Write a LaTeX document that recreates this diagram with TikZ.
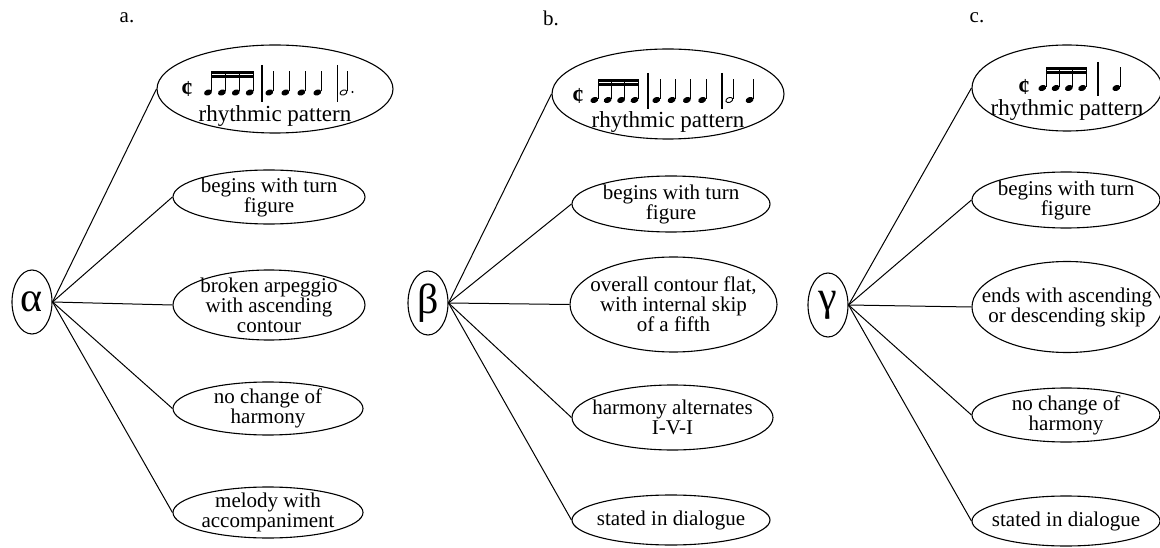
\documentclass[tikz,border=0pt]{standalone}
\usepackage{fontspec}
\setmainfont{Liberation Serif}
\usetikzlibrary{shapes.geometric}

% note-drawing helpers (coordinates in picture units, y pointing down)
\newcommand\nHead[2]{\fill[rotate around={22:(#1,#2)}] (#1,#2) ellipse [x radius=4.1pt, y radius=2.9pt];}
\newcommand\nOpenHead[2]{\draw[line width=0.9pt, rotate around={22:(#1,#2)}] (#1,#2) ellipse [x radius=3.6pt, y radius=2.4pt];}
\newcommand\nStem[2]{\draw[stemline] ({#1+3.7},{#2-1}) -- ({#1+3.7},{#2-21});}
\newcommand\nQuarter[2]{\nHead{#1}{#2}\nStem{#1}{#2}}
\newcommand\nHalf[2]{\nOpenHead{#1}{#2}\nStem{#1}{#2}}
% four beamed sixteenths: first head x, head y, spacing
\newcommand\nSixteenths[3]{%
  \foreach \i in {0,...,3}{\nQuarter{#1+\i*#3}{#2}}
  \fill ({#1+3.3},{#2-21.2}) rectangle ({#1+3*#3+4.1},{#2-18.4});
  \fill ({#1+3.3},{#2-17.0}) rectangle ({#1+3*#3+4.1},{#2-14.2});}
% four quarters: first head x, head y, spacing
\newcommand\nQuarters[3]{\foreach \i in {0,...,3}{\nQuarter{#1+\i*#3}{#2}}}
\newcommand\nBar[3]{\draw[barline] (#1,#2) -- (#1,#3);}

\begin{document}
\begin{tikzpicture}[x=1pt,y=-1pt,
  txt/.style={inner sep=0pt, align=center, font=\fontsize{21}{20}\selectfont},
  rtxt/.style={inner sep=0pt, font=\fontsize{23}{23}\selectfont},
  greek/.style={inner sep=0pt, font=\fontsize{42}{42}\selectfont},
  cut/.style={inner sep=0pt, font=\fontsize{23}{23}\selectfont\bfseries},
  motif/.style={draw, ellipse, line width=1.1pt, inner sep=0pt,
                minimum width=40pt, minimum height=64pt},
  feat/.style={draw, ellipse, line width=1.1pt, inner sep=0pt},
  edge/.style={line width=1pt},
  stemline/.style={line width=0.8pt},
  barline/.style={line width=1.6pt}]

\useasboundingbox (0,0) rectangle (1160,548);

% ---------------- column a ----------------
\node[txt] (la) at (127,18) {a.};
\node[motif] (alpha) at (32,302) {};
\node[greek] (alphat) at (alpha) {α};

\node[feat, minimum width=236pt, minimum height=88pt] (a1) at (275,89) {};
\node[cut] (a1c) at (187,88.5) {¢};
\nSixteenths{208}{92.5}{13.9}
\nBar{262}{65}{102}
\nQuarters{269.3}{92.5}{16}
\nBar{337.5}{65}{102}
\nHalf{343.5}{92.5}
\fill (352.5,92) circle (1.2pt);
\node[rtxt] (a1t) at (275,116.5) {rhythmic pattern};

\node[feat, minimum width=192pt, minimum height=54pt] (a2) at (269,197) {};
\node[txt] (a2t) at (a2) {begins with turn\\figure};
\node[feat, minimum width=192pt, minimum height=70pt] (a3) at (269,305) {};
\node[txt] (a3t) at (a3) {broken arpeggio\\with ascending\\contour};
\node[feat, minimum width=190pt, minimum height=53pt] (a4) at (268,408.5) {};
\node[txt] (a4t) at (a4) {no change of\\harmony};
\node[feat, minimum width=190pt, minimum height=51pt] (a5) at (268,512.5) {};
\node[txt] (a5t) at (a5) {melody with\\accompaniment};

\foreach \t in {a1,a2,a3,a4,a5}{\draw[edge] (alpha.east) -- (\t.west);}

% ---------------- column b ----------------
\node[txt] (lb) at (551,18) {b.};
\node[motif] (beta) at (428,303) {};
\node[greek] (betat) at (beta) {β};

\node[feat, minimum width=232pt, minimum height=90pt] (b1) at (668,94) {};
\node[cut] (b1c) at (578,96) {¢};
\nSixteenths{594.3}{100}{13.4}
\nBar{648}{73}{109}
\nQuarters{656.3}{100}{15.3}
\nBar{722}{73}{109}
\nHalf{729.3}{100}
\nQuarter{749.6}{100}
\node[rtxt] (b1t) at (668,122) {rhythmic pattern};

\node[feat, minimum width=198pt, minimum height=56pt] (b2) at (671,204) {};
\node[txt] (b2t) at (b2) {begins with turn\\figure};
\node[feat, minimum width=207pt, minimum height=95pt] (b3) at (673.5,304.5) {};
\node[txt] (b3t) at (b3) {overall contour flat,\\with internal skip\\of a fifth};
\node[feat, minimum width=201pt, minimum height=65pt] (b4) at (672.5,417.5) {};
\node[txt] (b4t) at (b4) {harmony alternates\\I-V-I};
\node[feat, minimum width=198pt, minimum height=50pt] (b5) at (671,520) {};
\node[txt] (b5t) at (b5) {stated in dialogue};

\foreach \t in {b1,b2,b3,b4,b5}{\draw[edge] (beta.east) -- (\t.west);}

% ---------------- column c ----------------
\node[txt] (lc) at (977,18) {c.};
\node[motif] (gamma) at (828,305) {};
\node[greek] (gammat) at (gamma) {γ};

\node[feat, minimum width=190pt, minimum height=86pt] (c1) at (1067,88) {};
\node[cut] (c1c) at (1024,86.5) {¢};
\nSixteenths{1042.3}{88}{13.3}
\nBar{1098}{62}{96}
\nQuarter{1116.3}{88}
\node[rtxt] (c1t) at (1067,110) {rhythmic pattern};

\node[feat, minimum width=188pt, minimum height=56pt] (c2) at (1066,200) {};
\node[txt] (c2t) at (c2) {begins with turn\\figure};
\node[feat, minimum width=190pt, minimum height=91pt] (c3) at (1067,307) {};
\node[txt] (c3t) at (c3) {ends with ascending\\or descending skip};
\node[feat, minimum width=188pt, minimum height=54pt] (c4) at (1066,415) {};
\node[txt] (c4t) at (c4) {no change of\\harmony};
\node[feat, minimum width=188pt, minimum height=50pt] (c5) at (1066,521) {};
\node[txt] (c5t) at (c5) {stated in dialogue};

\foreach \t in {c1,c2,c3,c4,c5}{\draw[edge] (gamma.east) -- (\t.west);}

\end{tikzpicture}
\end{document}
